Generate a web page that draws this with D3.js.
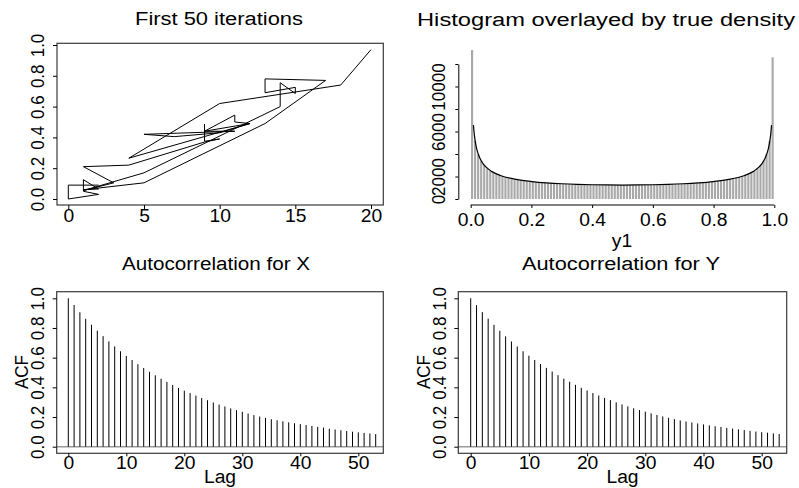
<!DOCTYPE html>
<html><head><meta charset="utf-8">
<script src="https://cdn.jsdelivr.net/npm/d3@7/dist/d3.min.js"></script>
<style>
body{margin:0;background:#fff}
svg{display:block}
text{font-family:"Liberation Sans",Arial,Helvetica,sans-serif;fill:#000}
</style>
</head><body>
<svg id="c" width="799" height="488"></svg>
<script>
// ---------- data ----------
const iterX = [2,0,0,2,1,1,2,1,5,13,17,13,13,15,15,14,14,5,1,3,1,4,9,10,9,9,9,11,11,12,9,11,5,7,10,12,4,10,18,20];
const iterY = [0.09,0.09,0.00,0.03,0.05,0.125,0.065,0.06,0.105,0.49,0.77,0.78,0.69,0.725,0.685,0.755,0.60,0.17,0.055,0.105,0.21,0.22,0.37,0.39,0.375,0.485,0.44,0.545,0.50,0.49,0.44,0.44,0.42,0.405,0.43,0.49,0.265,0.62,0.74,0.97];
const iterXTicks = [0,5,10,15,20];
const iterYTicks = [0,0.2,0.4,0.6,0.8,1.0];

const histCounts = [13240,5185,3990,3385,2998,2722,2515,2356,2230,2122,2024,1948,1874,1820,1760,1718,1668,1636,1596,1570,
 1536,1514,1484,1466,1440,1428,1402,1394,1372,1364,1346,1338,1322,1318,1302,1300,1286,1284,1272,1270,
 1262,1262,1254,1250,1252,1244,1246,1240,1244,1238,
 1245,1238,1244,1252,1243,1255,1248,1256,1262,1258,1272,1266,1284,1293,1298,1315,1306,1325,1342,1352,
 1365,1374,1394,1405,1422,1436,1463,1488,1508,1545,1566,1597,1635,1674,1714,1768,1806,1884,1946,2036,
 2115,2238,2356,2512,2735,2985,3392,4010,5170,12600];
const densX = [0.009,0.012,0.015,0.02,0.03,0.04,0.05,0.07,0.1,0.15,0.2,0.25,0.3,0.35,0.4,0.45,0.5,0.55,0.6,0.65,0.7,0.75,0.8,0.85,0.9,0.93,0.95,0.96,0.97,0.98,0.985,0.988,0.991];
const densY = [6570,5700,5107,4434,3639,3167,2848,2433,2069,1738,1552,1433,1354,1301,1267,1248,1241,1248,1267,1301,1354,1433,1552,1738,2069,2433,2848,3167,3639,4434,5107,5700,6570];
const histXTicks = [0,0.2,0.4,0.6,0.8,1.0];
const histYTicks = [0,2000,4000,6000,8000,10000,12000];
const histYLabels = [0,2000,6000,10000];

const lags = d3.range(0,54);
const acfX = [1.000,0.955,0.906,0.862,0.822,0.782,0.745,0.710,0.676,0.643,0.612,0.584,0.556,0.530,0.505,0.481,0.458,0.437,0.416,0.396,
 0.378,0.361,0.344,0.328,0.313,0.298,0.284,0.271,0.258,0.246,0.235,0.224,0.213,0.203,0.194,0.185,0.178,0.171,0.164,0.158,
 0.152,0.146,0.140,0.134,0.129,0.121,0.116,0.111,0.106,0.101,0.097,0.093,0.089,0.085];
const acfY = [1.000,0.954,0.907,0.863,0.821,0.781,0.744,0.709,0.675,0.643,0.613,0.584,0.557,0.531,0.506,0.482,0.459,0.438,0.417,0.397,
 0.379,0.362,0.345,0.329,0.314,0.299,0.285,0.272,0.259,0.247,0.236,0.225,0.214,0.204,0.195,0.186,0.177,0.170,0.163,0.157,
 0.150,0.144,0.138,0.133,0.127,0.122,0.117,0.112,0.107,0.102,0.098,0.094,0.090,0.086];
const acfXTicks = [0,10,20,30,40,50];
const acfYTicks = [0,0.2,0.4,0.6,0.8,1.0];

// ---------- helpers ----------
const svg = d3.select("#c");
const HS = 1.07, HF = 18;   // horizontal text stretch / size
const VS = 1.08, VF = 17;   // rotated text stretch / size

function title(x, y, str, w){
  svg.append("text").attr("x",x).attr("y",y).attr("text-anchor","middle")
    .attr("font-size",18).attr("textLength",w).attr("lengthAdjust","spacingAndGlyphs").text(str);
}
function hLabel(x, y, str){
  svg.append("text").attr("transform",`translate(${x},${y}) scale(${HS},1)`)
    .attr("text-anchor","middle").attr("font-size",HF).text(str);
}
function vLabel(x, y, str){
  svg.append("text").attr("transform",`translate(${x},${y}) scale(${VS},1) rotate(-90)`)
    .attr("text-anchor","middle").attr("dominant-baseline","central").attr("font-size",VF).text(str);
}
function styleBottom(g, dy){
  g.select(".domain").remove();
  g.selectAll(".tick line").attr("stroke","#000");
  g.selectAll(".tick text").attr("font-size",HF).attr("dy",null).attr("y",null)
    .attr("transform",`translate(0,${dy}) scale(${HS},1)`).attr("fill","#000");
}
function styleLeft(g, dx){
  g.selectAll(".tick line").attr("stroke","#000");
  g.selectAll(".tick text").attr("x",null).attr("dy",null).attr("font-size",VF)
    .attr("text-anchor","middle").attr("dominant-baseline","central").attr("fill","#000")
    .attr("transform",`translate(${dx},0) scale(${VS},1) rotate(-90)`);
}
function box(x0,y0,x1,y1){
  svg.append("rect").attr("x",x0).attr("y",y0).attr("width",x1-x0).attr("height",y1-y0)
    .attr("fill","none").attr("stroke","#3a3a3a").attr("stroke-width",1.2);
}

// ---------- panel 1: trace ----------
{
  const xs = d3.scaleLinear().domain([0,20]).range([68.3,371]);
  const ys = d3.scaleLinear().domain([0,1]).range([199,45]);
  const pts = iterX.map((d,i)=>[d,iterY[i]]);
  svg.append("path").datum(pts)
    .attr("d", d3.line().x(d=>xs(d[0])).y(d=>ys(d[1])))
    .attr("fill","none").attr("stroke","#000").attr("stroke-width",1);
  box(57,43.3,383.3,205);
  const gx = svg.append("g").attr("transform","translate(0,205)")
    .call(d3.axisBottom(xs).tickValues(iterXTicks).tickSize(4).tickFormat(d3.format("d")));
  styleBottom(gx,17);
  const gy = svg.append("g").attr("transform","translate(57,0)")
    .call(d3.axisLeft(ys).tickValues(iterYTicks).tickSize(4).tickFormat(d3.format(".1f")));
  gy.select(".domain").remove();
  styleLeft(gy,-19);
  title(219,25,"First 50 iterations",168);
}

// ---------- panel 2: histogram ----------
{
  const xs = d3.scaleLinear().domain([0,1]).range([470.7,774.3]);
  const ys = d3.scaleLinear().domain([0,12000]).range([199,64]);
  const bw = 0.01;
  svg.append("g").selectAll("rect").data(histCounts).join("rect")
    .attr("x",(d,i)=>xs(i*bw)+0.3)
    .attr("width",(d,i)=>xs((i+1)*bw)-xs(i*bw)-0.9)
    .attr("y",d=>ys(d)).attr("height",d=>ys(0)-ys(d))
    .attr("fill","#a9a9a9");
  svg.append("path").datum(densX.map((d,i)=>[d,densY[i]]))
    .attr("d", d3.line().x(d=>xs(d[0])).y(d=>ys(d[1])).curve(d3.curveMonotoneX))
    .attr("fill","none").attr("stroke","#000").attr("stroke-width",1.2);
  const gx = svg.append("g").attr("transform","translate(0,205)")
    .call(d3.axisBottom(xs).tickValues(histXTicks).tickSize(3).tickSizeOuter(0).tickFormat(d3.format(".1f")));
  styleBottom(gx,21);
  svg.append("line").attr("x1",xs(0)).attr("x2",xs(1)).attr("y1",205).attr("y2",205).attr("stroke","#000");
  const gy = svg.append("g").attr("transform","translate(458.3,0)")
    .call(d3.axisLeft(ys).tickValues(histYTicks).tickSize(3).tickSizeOuter(0)
      .tickFormat(d=> histYLabels.includes(d) ? String(d) : ""));
  gy.select(".domain").attr("stroke","#000");
  styleLeft(gy,-20);
  hLabel(622,247,"y1");
  title(606,26,"Histogram overlayed by true density",378);
}

// ---------- panels 3/4: ACF ----------
function acfPanel(vals, x0, x1, xr0, xr1, lab, tx, tw){
  const xs = d3.scaleLinear().domain([0,50]).range([xr0,xr1]);
  const ys = d3.scaleLinear().domain([0,1]).range([446.7,298.3]);
  svg.append("line").attr("x1",x0).attr("x2",x1).attr("y1",ys(0)).attr("y2",ys(0))
    .attr("stroke","#9a9a9a").attr("stroke-width",1.6);
  svg.append("g").selectAll("line").data(lags).join("line")
    .attr("x1",d=>xs(d)).attr("x2",d=>xs(d))
    .attr("y1",ys(0)).attr("y2",(d,i)=>ys(vals[i]))
    .attr("stroke","#000").attr("stroke-width",1);
  box(x0,291.7,x1,453.3);
  const gx = svg.append("g").attr("transform","translate(0,453.3)")
    .call(d3.axisBottom(xs).tickValues(acfXTicks).tickSize(3).tickFormat(d3.format("d")));
  styleBottom(gx,16);
  const gy = svg.append("g").attr("transform",`translate(${x0},0)`)
    .call(d3.axisLeft(ys).tickValues(acfYTicks).tickSize(4).tickFormat(d3.format(".1f")));
  gy.select(".domain").remove();
  styleLeft(gy,-19);
  hLabel((x0+x1)/2,483,"Lag");
  vLabel(x0-35,372,"ACF");
  title(tx,270,lab,tw);
}
acfPanel(acfX, 56.7, 383.3, 68.3, 358.3, "Autocorrelation for X", 216, 188);
acfPanel(acfY, 458.3, 786.7, 470.7, 761.7, "Autocorrelation for Y", 621, 198);
</script>
</body></html>
